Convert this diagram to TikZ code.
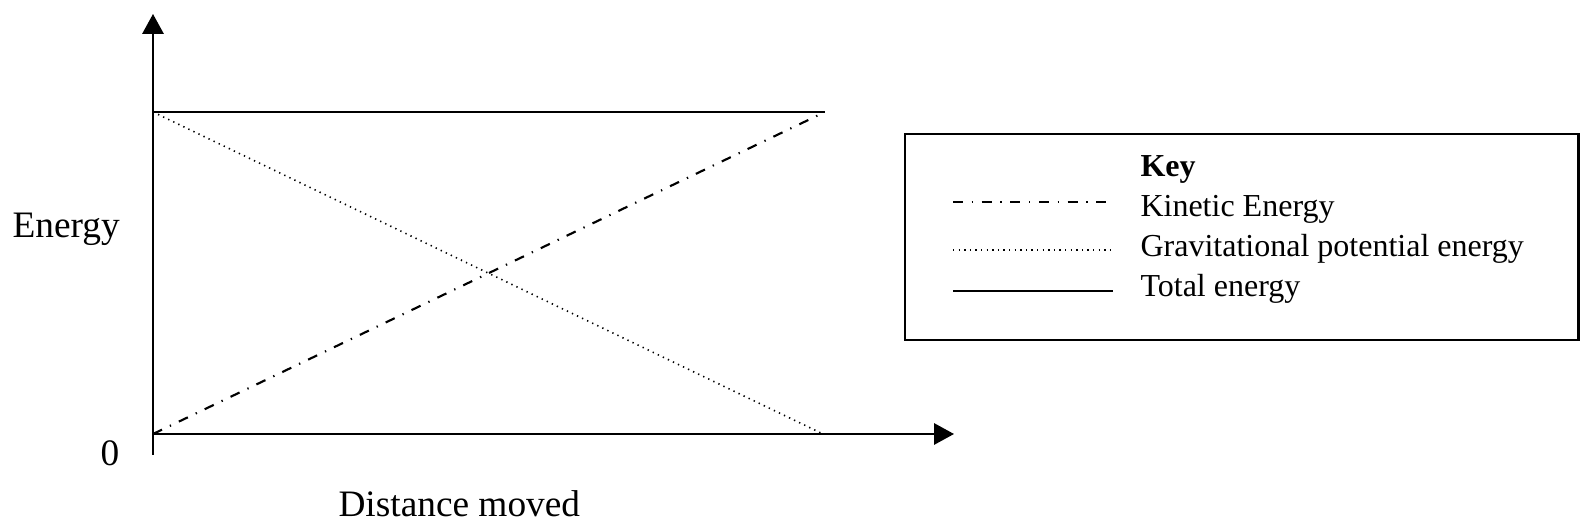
\documentclass[tikz,border=0pt]{standalone}
\usepackage{fontspec}
\setmainfont{Liberation Serif}
\usetikzlibrary{arrows.meta}
\usetikzlibrary{positioning}
\newcommand{\axislabelsize}[0]{\fontsize{14pt}{16pt}\selectfont}
\newcommand{\keylabelsize}[0]{\fontsize{12pt}{14pt}\selectfont}

\begin{document}
\begin{tikzpicture}[x=0.375pt, y=-0.375pt,
    axis/.style={line width=0.8pt, -{Triangle[length=7.5pt, width=8pt]}},
    total/.style={line width=0.8pt},
    kinetic/.style={line width=0.8pt, dash pattern=on 3.75pt off 3.25pt on 0.5pt off 3.25pt},
    potential/.style={line width=0.6pt, dash pattern=on 0.5pt off 1.6pt},
    axislabel/.style={inner sep=0pt, anchor=base west, font=\axislabelsize},
    keytext/.style={inner sep=0pt, anchor=base west, font=\keylabelsize}]
    \useasboundingbox (0,0) rectangle (1591,529);
    \coordinate (origin) at (153,434);
    \coordinate (y_top) at (153,14);
    \coordinate (y_bottom) at (153,455);
    \coordinate (x_right) at (954,434);
    \coordinate (e_max) at (153,112);
    \coordinate (e_end) at (825,112);
    \coordinate (e_zero) at (823,434);
    \draw[axis] (y_bottom) -- (y_top);
    \draw[axis] (origin) -- (x_right);
    \draw[total] (e_max) -- (e_end);
    \draw[potential] (e_max) -- (e_zero);
    \draw[kinetic] (origin) -- (e_end);
    \node[axislabel] (energy) at (12,238) {Energy};
    \node[axislabel] (zero) at (100,466) {0};
    \node[axislabel] (distance) at (338,517) {Distance moved};
    % key
    \node[draw, line width=1.1pt, inner sep=0pt, minimum width=252.4pt, minimum height=77.25pt]
        (keybox) at (1241.5,237) {};
    \node[keytext, font=\keylabelsize\bfseries] (key_title) at (1140,177) {Key};
    \node[below=15pt of key_title.base west, keytext] (key_kinetic) {Kinetic Energy};
    \node[below=15pt of key_kinetic.base west, keytext] (key_potential) {Gravitational potential energy};
    \node[below=15pt of key_potential.base west, keytext] (key_total) {Total energy};
    \draw[kinetic] (953,202) -- (1107,202);
    \draw[potential] (953,250) -- (1112,250);
    \draw[total] (953,291) -- (1113,291);
\end{tikzpicture}
\end{document}
